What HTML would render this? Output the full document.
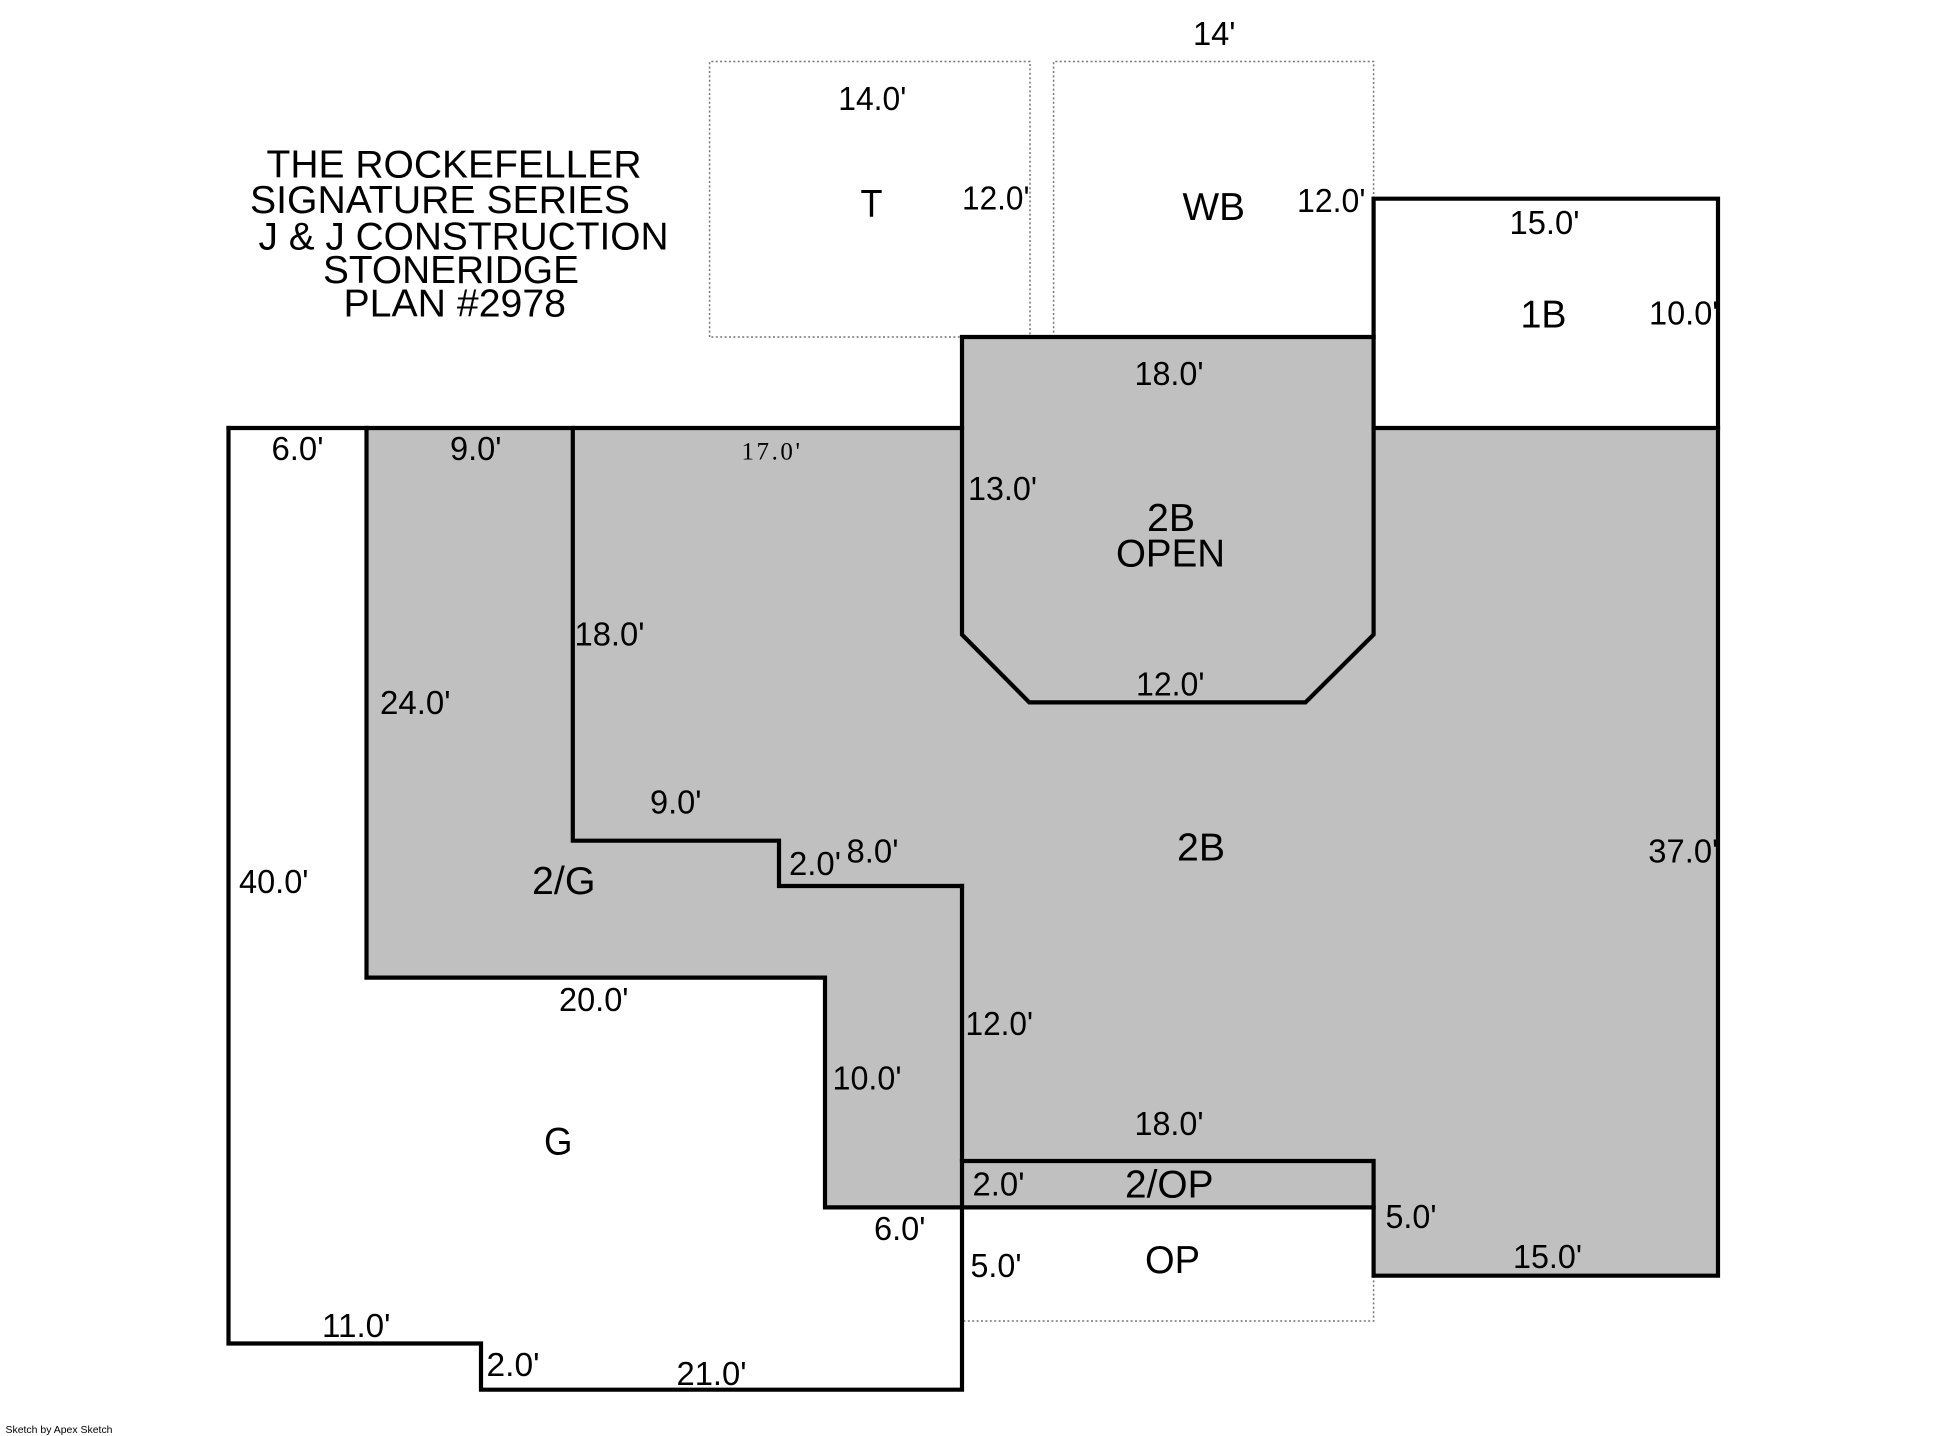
<!DOCTYPE html>
<html><head><meta charset="utf-8"><title>The Rockefeller Plan</title>
<style>html,body{margin:0;padding:0;background:#fff}svg{display:block}
text{font-family:"Liberation Sans",Arial,sans-serif;fill:#000}
.d{font-size:33px}.r{font-size:39px}.t{font-size:39px}</style></head>
<body>
<svg xmlns="http://www.w3.org/2000/svg" width="1958" height="1436" viewBox="0 0 1958 1436">
<rect width="1958" height="1436" fill="#fff"/>
<g transform="translate(-1,0)">
<path d="M367.5 428H963V337H1374.6V428H1719V1275.7H1374.6V1207H826V977.6H367.5Z" fill="#c0c0c0"/>
<g fill="none" stroke="#777" stroke-width="1.5" stroke-dasharray="2 2.4">
<path d="M710.6 337V61.5H1031V337H710.6"/>
<path d="M1054.6 337V61.5H1374.6V200"/>
<path d="M1374.6 1276V1321H963"/>
</g>
<g fill="none" stroke="#000" stroke-width="4.2" stroke-linejoin="miter" stroke-linecap="square">
<path d="M229.5 428H963"/>
<path d="M1374.6 428H1719"/>
<path d="M963 428V337H1374.6V634.6L1306.5 702.4H1030.3L963 634.6V428"/>
<path d="M1374.6 337V198.7H1719V1275.7H1374.6V1161H963"/>
<path d="M963 886V1389.7H482V1343.5H229.5V428"/>
<path d="M573.8 428V840.7H780V886H963"/>
<path d="M367.5 428V977.6H826V1207.4H1374.6"/>
</g>
</g>
<g>
<text class="t" x="266.5" y="177.4" textLength="375" lengthAdjust="spacingAndGlyphs">THE ROCKEFELLER</text>
<text class="t" x="250" y="213" textLength="380" lengthAdjust="spacingAndGlyphs">SIGNATURE SERIES</text>
<text class="t" x="258.5" y="249.7" textLength="410" lengthAdjust="spacingAndGlyphs">J &amp; J CONSTRUCTION</text>
<text class="t" x="323" y="283" textLength="256" lengthAdjust="spacingAndGlyphs">STONERIDGE</text>
<text class="t" x="343.5" y="316.3" textLength="222.5" lengthAdjust="spacingAndGlyphs">PLAN #2978</text>
</g>
<g>
<text class="r" x="860.5" y="217" textLength="22" lengthAdjust="spacingAndGlyphs">T</text>
<text class="r" x="1182.5" y="220.2" textLength="62.5" lengthAdjust="spacingAndGlyphs">WB</text>
<text class="r" x="1520.5" y="327.3" textLength="46" lengthAdjust="spacingAndGlyphs">1B</text>
<text class="r" x="1147" y="531" textLength="48" lengthAdjust="spacingAndGlyphs">2B</text>
<text class="r" x="1116" y="566.3" textLength="109" lengthAdjust="spacingAndGlyphs">OPEN</text>
<text class="r" x="1177" y="860.3" textLength="48" lengthAdjust="spacingAndGlyphs">2B</text>
<text class="r" x="532" y="893.8" textLength="63.5" lengthAdjust="spacingAndGlyphs">2/G</text>
<text class="r" x="544" y="1154.3" textLength="28.5" lengthAdjust="spacingAndGlyphs">G</text>
<text class="r" x="1125" y="1197.4" textLength="88.5" lengthAdjust="spacingAndGlyphs">2/OP</text>
<text class="r" x="1145" y="1272.9" textLength="55" lengthAdjust="spacingAndGlyphs">OP</text>
</g>
<g>
<text class="d" x="838.3" y="110" textLength="68" lengthAdjust="spacingAndGlyphs">14.0'</text>
<text class="d" x="962" y="209.4" textLength="67.5" lengthAdjust="spacingAndGlyphs">12.0'</text>
<text class="d" x="1193" y="45" textLength="42.5" lengthAdjust="spacingAndGlyphs">14'</text>
<text class="d" x="1297" y="211.8" textLength="68.5" lengthAdjust="spacingAndGlyphs">12.0'</text>
<text class="d" x="1509.5" y="234" textLength="70" lengthAdjust="spacingAndGlyphs">15.0'</text>
<text class="d" x="1649" y="324.6" textLength="69.5" lengthAdjust="spacingAndGlyphs">10.0'</text>
<text class="d" x="1134.5" y="385.2" textLength="69" lengthAdjust="spacingAndGlyphs">18.0'</text>
<text class="d" x="271.5" y="460.2" textLength="52" lengthAdjust="spacingAndGlyphs">6.0'</text>
<text class="d" x="450" y="460.2" textLength="51.5" lengthAdjust="spacingAndGlyphs">9.0'</text>
<text x="741.5" y="459.7" font-size="25" style="font-family:'Liberation Serif',serif" textLength="58.5" lengthAdjust="spacing">17.0'</text>
<text class="d" x="968" y="500.2" textLength="69" lengthAdjust="spacingAndGlyphs">13.0'</text>
<text class="d" x="574.5" y="645.3" textLength="70" lengthAdjust="spacingAndGlyphs">18.0'</text>
<text class="d" x="1136" y="695.6" textLength="68.5" lengthAdjust="spacingAndGlyphs">12.0'</text>
<text class="d" x="380" y="714" textLength="70.5" lengthAdjust="spacingAndGlyphs">24.0'</text>
<text class="d" x="650" y="813.4" textLength="51.5" lengthAdjust="spacingAndGlyphs">9.0'</text>
<text class="d" x="846.5" y="862.4" textLength="52" lengthAdjust="spacingAndGlyphs">8.0'</text>
<text class="d" x="789" y="875.2" textLength="52" lengthAdjust="spacingAndGlyphs">2.0'</text>
<text class="d" x="1648.3" y="862.4" textLength="70" lengthAdjust="spacingAndGlyphs">37.0'</text>
<text class="d" x="239" y="893.2" textLength="69.5" lengthAdjust="spacingAndGlyphs">40.0'</text>
<text class="d" x="559" y="1011.2" textLength="69.5" lengthAdjust="spacingAndGlyphs">20.0'</text>
<text class="d" x="965.5" y="1035" textLength="67.5" lengthAdjust="spacingAndGlyphs">12.0'</text>
<text class="d" x="832.5" y="1089.3" textLength="69" lengthAdjust="spacingAndGlyphs">10.0'</text>
<text class="d" x="1134.5" y="1135.2" textLength="69" lengthAdjust="spacingAndGlyphs">18.0'</text>
<text class="d" x="972.5" y="1195.7" textLength="52" lengthAdjust="spacingAndGlyphs">2.0'</text>
<text class="d" x="1385.5" y="1228.2" textLength="51" lengthAdjust="spacingAndGlyphs">5.0'</text>
<text class="d" x="874" y="1240" textLength="51.5" lengthAdjust="spacingAndGlyphs">6.0'</text>
<text class="d" x="1513" y="1268" textLength="69" lengthAdjust="spacingAndGlyphs">15.0'</text>
<text class="d" x="970.5" y="1277.2" textLength="51" lengthAdjust="spacingAndGlyphs">5.0'</text>
<text class="d" x="322" y="1337.2" textLength="68.5" lengthAdjust="spacingAndGlyphs">11.0'</text>
<text class="d" x="486.5" y="1376" textLength="53" lengthAdjust="spacingAndGlyphs">2.0'</text>
<text class="d" x="676.5" y="1385.2" textLength="70" lengthAdjust="spacingAndGlyphs">21.0'</text>
<text x="5.5" y="1433" font-size="10.5" textLength="107" lengthAdjust="spacingAndGlyphs">Sketch by Apex Sketch</text>
</g>
</svg>
</body></html>
